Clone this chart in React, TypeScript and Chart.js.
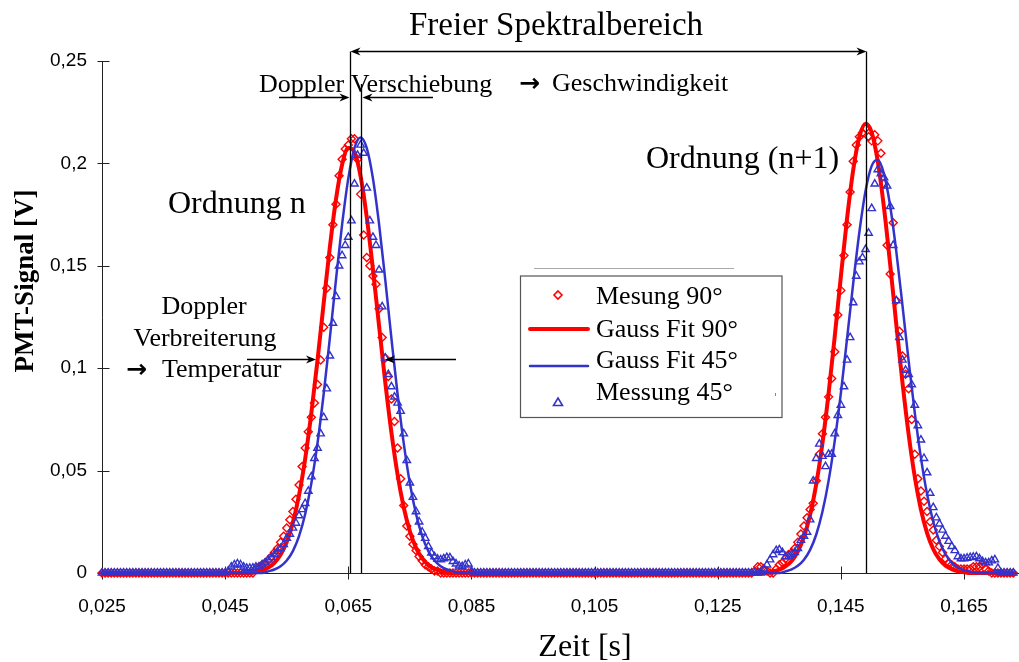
import React, { useEffect, useRef } from "react";
import { Chart, registerables } from "chart.js";

Chart.register(...registerables);

// ---- axis / sampling ----
const T_START = 0.025;
const MEAS_STEP = 0.0005;
const FIT_STEP = 0.001;
const X_MIN = 0.025;
const X_MAX = 0.173;
const Y_MIN = 0;
const Y_MAX = 0.25;
const X_TICKS = [0.025, 0.045, 0.065, 0.085, 0.105, 0.125, 0.145, 0.165];
const Y_TICKS = [0, 0.05, 0.1, 0.15, 0.2, 0.25];

// peak positions marked with vertical lines (s)
const PEAK_LINES = [0.06523, 0.06701, 0.14911];

const SERIES_LABELS = ["Mesung 90°", "Gauss Fit 90°", "Gauss Fit 45°", "Messung 45°"];

// ---- measured signal 90° (V), every 0.5 ms from 0.025 s ----
const messung90 = [
  0, 0, 0, 0, 0, 0, 0, 0, 0, 0,
  0, 0, 0, 0, 0, 0, 0, 0, 0, 0,
  0, 0, 0, 0, 0, 0, 0, 0, 0, 0,
  0, 0, 0, 0, 0, 0, 0, 0, 0, 0,
  0, 0, 0, 0, 0, 0, 0, 0, 0, 0,
  0.002, 0.003, 0.004, 0.005, 0.006, 0.008, 0.010, 0.012, 0.015, 0.018,
  0.022, 0.026, 0.030, 0.036, 0.043, 0.052, 0.061, 0.069, 0.076, 0.083,
  0.092, 0.104, 0.120, 0.139, 0.154, 0.170, 0.180, 0.194, 0.202, 0.207,
  0.209, 0.212, 0.212, 0.202, 0.185, 0.165, 0.154, 0.150, 0.145, 0.141,
  0.129, 0.115, 0.105, 0.096, 0.085, 0.074, 0.061, 0.046, 0.033, 0.023,
  0.018, 0.014, 0.011, 0.008, 0.006, 0.004, 0.003, 0.002, 0.001, 0.001,
  0, 0, 0, 0, 0, 0, 0, 0, 0, 0,
  0, 0, 0, 0, 0, 0, 0, 0, 0, 0,
  0, 0, 0, 0, 0, 0, 0, 0, 0, 0,
  0, 0, 0, 0, 0, 0, 0, 0, 0, 0,
  0, 0, 0, 0, 0, 0, 0, 0, 0, 0,
  0, 0, 0, 0, 0, 0, 0, 0, 0, 0,
  0, 0, 0, 0, 0, 0, 0, 0, 0, 0,
  0, 0, 0, 0, 0, 0, 0, 0, 0, 0,
  0, 0, 0, 0, 0, 0, 0, 0, 0, 0,
  0, 0, 0, 0, 0, 0, 0, 0, 0, 0,
  0, 0, 0.001, 0.003, 0.003, 0.002, 0.001, 0, 0, 0.002,
  0.004, 0.005, 0.007, 0.009, 0.010, 0.012, 0.015, 0.019, 0.023, 0.027,
  0.031, 0.034, 0.045, 0.058, 0.068, 0.076, 0.086, 0.095, 0.108, 0.126,
  0.138, 0.155, 0.170, 0.186, 0.201, 0.209, 0.213, 0.215, 0.217, 0.213,
  0.211, 0.214, 0.211, 0.205, 0.190, 0.160, 0.146, 0.171, 0.133, 0.118,
  0.106, 0.097, 0.090, 0.075, 0.058, 0.046, 0.040, 0.035, 0.030, 0.025,
  0.021, 0.016, 0.013, 0.010, 0.007, 0.005, 0.004, 0.003, 0.002, 0.002,
  0.002, 0.002, 0.002, 0.003, 0.003, 0.003, 0.004, 0.002, 0.001, 0,
  0, 0, 0, 0, 0, 0, 0,
];

// ---- measured signal 45° (V), every 0.5 ms from 0.025 s ----
const messung45 = [
  0, 0, 0, 0, 0, 0, 0, 0, 0, 0,
  0, 0, 0, 0, 0, 0, 0, 0, 0, 0,
  0, 0, 0, 0, 0, 0, 0, 0, 0, 0,
  0, 0, 0, 0, 0, 0, 0, 0, 0, 0,
  0, 0.001, 0.003, 0.004, 0.0045, 0.004, 0.003, 0.0024, 0.0024, 0.0025,
  0.003, 0.003, 0.004, 0.005, 0.0065, 0.0075, 0.009, 0.0105, 0.012, 0.014,
  0.017, 0.019, 0.022, 0.0244, 0.028, 0.031, 0.034, 0.040, 0.047, 0.056,
  0.061, 0.068, 0.076, 0.090, 0.106, 0.122, 0.135, 0.150, 0.155, 0.160,
  0.164, 0.172, 0.190, 0.204, 0.209, 0.205, 0.188, 0.172, 0.164, 0.160,
  0.148, 0.130, 0.105, 0.097, 0.091, 0.086, 0.083, 0.079, 0.068, 0.055,
  0.044, 0.037, 0.030, 0.025, 0.020, 0.017, 0.013, 0.0098, 0.008, 0.0068,
  0.0065, 0.007, 0.0076, 0.0075, 0.0057, 0.0045, 0.0035, 0.0032, 0.004, 0.0045,
  0.001, 0, 0, 0, 0, 0, 0, 0, 0, 0,
  0, 0, 0, 0, 0, 0, 0, 0, 0, 0,
  0, 0, 0, 0, 0, 0, 0, 0, 0, 0,
  0, 0, 0, 0, 0, 0, 0, 0, 0, 0,
  0, 0, 0, 0, 0, 0, 0, 0, 0, 0,
  0, 0, 0, 0, 0, 0, 0, 0, 0, 0,
  0, 0, 0, 0, 0, 0, 0, 0, 0, 0,
  0, 0, 0, 0, 0, 0, 0, 0, 0, 0,
  0, 0, 0, 0, 0, 0, 0, 0, 0, 0,
  0, 0, 0, 0, 0, 0.002, 0.004, 0.0065, 0.009, 0.011,
  0.0114, 0.010, 0.008, 0.008, 0.009, 0.010, 0.012, 0.016, 0.018, 0.020,
  0.026, 0.045, 0.056, 0.063, 0.057, 0.052, 0.058, 0.058, 0.068, 0.077,
  0.082, 0.091, 0.104, 0.115, 0.132, 0.145, 0.152, 0.154, 0.158, 0.166,
  0.178, 0.190, 0.197, 0.195, 0.193, 0.189, 0.179, 0.160, 0.133, 0.115,
  0.104, 0.099, 0.097, 0.092, 0.082, 0.072, 0.065, 0.056, 0.049, 0.039,
  0.032, 0.027, 0.024, 0.021, 0.018, 0.0155, 0.013, 0.011, 0.008, 0.007,
  0.007, 0.0073, 0.0076, 0.0078, 0.008, 0.007, 0.0057, 0.005, 0.005, 0.006,
  0.0065, 0.0024, 0, 0, 0, 0, 0,
];

// ---- Gauss fit 90° (V), every 1 ms from 0.025 s ----
const gaussFit90 = [
  0, 0, 0, 0, 0, 0, 0, 0, 0, 0,
  0, 0, 0, 0, 0, 0, 0, 0, 0, 0,
  0, 0, 0, 0, 0, 0.0005, 0.0012, 0.0026, 0.0050, 0.0089,
  0.0151, 0.0246, 0.0380, 0.0558, 0.0781, 0.1039, 0.1317, 0.1590, 0.1825, 0.1995,
  0.2075, 0.2055, 0.1937, 0.1737, 0.1483, 0.1206, 0.0933, 0.0687, 0.0481, 0.0321,
  0.0204, 0.0123, 0.0071, 0.0039, 0.0020, 0.0010, 0.0004, 0, 0, 0,
  0, 0, 0, 0, 0, 0, 0, 0, 0, 0,
  0, 0, 0, 0, 0, 0, 0, 0, 0, 0,
  0, 0, 0, 0, 0, 0, 0, 0, 0, 0,
  0, 0, 0, 0, 0, 0, 0, 0, 0, 0,
  0, 0, 0, 0, 0, 0, 0, 0, 0, 0.0008,
  0.0016, 0.0032, 0.0059, 0.0105, 0.0177, 0.0284, 0.0434, 0.0632, 0.0876, 0.1155,
  0.1449, 0.1731, 0.1968, 0.2130, 0.2194, 0.2152, 0.2008, 0.1783, 0.1508, 0.1213,
  0.0930, 0.0678, 0.0470, 0.0310, 0.0195, 0.0117, 0.0067, 0.0036, 0.0019, 0.0009,
  0.0004, 0, 0, 0, 0, 0, 0, 0, 0,
];

// ---- Gauss fit 45° (V), every 1 ms from 0.025 s ----
const gaussFit45 = [
  0, 0, 0, 0, 0, 0, 0, 0, 0, 0,
  0, 0, 0, 0, 0, 0, 0, 0, 0, 0,
  0, 0, 0, 0, 0, 0, 0, 0.0008, 0.0017, 0.0033,
  0.0061, 0.0107, 0.0180, 0.0288, 0.0438, 0.0634, 0.0874, 0.1147, 0.1433, 0.1703,
  0.1927, 0.2075, 0.2127, 0.2075, 0.1927, 0.1703, 0.1433, 0.1147, 0.0874, 0.0634,
  0.0438, 0.0288, 0.0180, 0.0107, 0.0061, 0.0033, 0.0017, 0.0008, 0, 0,
  0, 0, 0, 0, 0, 0, 0, 0, 0, 0,
  0, 0, 0, 0, 0, 0, 0, 0, 0, 0,
  0, 0, 0, 0, 0, 0, 0, 0, 0, 0,
  0, 0, 0, 0, 0, 0, 0, 0, 0, 0,
  0, 0, 0, 0, 0, 0, 0, 0, 0, 0,
  0, 0.0008, 0.0018, 0.0035, 0.0065, 0.0113, 0.0188, 0.0299, 0.0450, 0.0645,
  0.0880, 0.1144, 0.1414, 0.1664, 0.1865, 0.1988, 0.2018, 0.1949, 0.1793, 0.1569,
  0.1307, 0.1036, 0.0782, 0.0562, 0.0384, 0.0250, 0.0155, 0.0091, 0.0051, 0.0027,
  0.0014, 0.0007, 0, 0, 0, 0, 0, 0, 0,
];

const RED = "#ff0000";
const BLUE = "#3333cc";
const SERIF = "'Liberation Serif', 'Times New Roman', serif";
const SANS = "'Liberation Sans', Arial, sans-serif";
const ARROW_FONT = "'DejaVu Sans', sans-serif";

const toPoints = (vals: number[], step: number) =>
  vals.map((v, i) => ({ x: +(T_START + i * step).toFixed(5), y: v }));

const fmt = (v: number) => String(Number(Number(v).toFixed(3))).replace(".", ",");

function arrowHead(ctx: CanvasRenderingContext2D, x: number, y: number, dir: number) {
  ctx.beginPath();
  ctx.moveTo(x, y);
  ctx.lineTo(x - dir * 10, y - 4);
  ctx.lineTo(x - dir * 7, y);
  ctx.lineTo(x - dir * 10, y + 4);
  ctx.closePath();
  ctx.fill();
}

function arrow(ctx: CanvasRenderingContext2D, from: number, tip: number, y: number) {
  const dir = tip > from ? 1 : -1;
  ctx.beginPath();
  ctx.moveTo(from, y);
  ctx.lineTo(tip - dir * 6, y);
  ctx.stroke();
  arrowHead(ctx, tip, y, dir);
}

const overlay = {
  id: "overlay",
  beforeDatasetsDraw(chart: any) {
    const { ctx, chartArea: a, scales } = chart;
    const x = scales.x;
    const y = scales.y;
    ctx.save();
    ctx.strokeStyle = "#222";
    ctx.lineWidth = 1;
    ctx.beginPath();
    const ax = Math.round(a.left) + 0.5;
    const ay = Math.round(a.bottom) + 0.5;
    ctx.moveTo(ax, a.top);
    ctx.lineTo(ax, ay);
    ctx.moveTo(ax, ay);
    ctx.lineTo(1019, ay);
    Y_TICKS.forEach((v) => {
      const py = Math.round(y.getPixelForValue(v)) + 0.5;
      ctx.moveTo(ax - 5, py);
      ctx.lineTo(ax + 7, py);
    });
    X_TICKS.forEach((v) => {
      const px = Math.round(x.getPixelForValue(v)) + 0.5;
      ctx.moveTo(px, ay - 7);
      ctx.lineTo(px, ay + 6);
    });
    ctx.stroke();
    ctx.restore();
  },
  afterDatasetsDraw(chart: any) {
    const { ctx, chartArea: a, scales } = chart;
    const x = scales.x;
    const xs = PEAK_LINES.map((v) => Math.round(x.getPixelForValue(v)) + 0.5);
    ctx.save();
    ctx.strokeStyle = "#000";
    ctx.fillStyle = "#000";
    ctx.lineWidth = 1.3;

    // vertical peak lines
    ctx.beginPath();
    ctx.moveTo(xs[0], 51.5);
    ctx.lineTo(xs[0], a.bottom);
    ctx.moveTo(xs[1], 84);
    ctx.lineTo(xs[1], a.bottom);
    ctx.moveTo(xs[2], 51.5);
    ctx.lineTo(xs[2], a.bottom);
    ctx.stroke();

    // free spectral range double arrow
    ctx.beginPath();
    ctx.moveTo(xs[0] + 5, 51.5);
    ctx.lineTo(xs[2] - 5, 51.5);
    ctx.stroke();
    arrowHead(ctx, xs[0], 51.5, -1);
    arrowHead(ctx, xs[2], 51.5, 1);

    // doppler shift arrows
    arrow(ctx, 279, xs[0] - 1, 97.5);
    arrow(ctx, 433, xs[1] + 1, 97.5);

    // doppler broadening arrows
    arrow(ctx, 247, 316, 359.5);
    arrow(ctx, 456, 385, 359.5);

    // texts
    ctx.fillStyle = "#000";
    ctx.textBaseline = "alphabetic";
    ctx.font = `33px ${SERIF}`;
    ctx.textAlign = "left";
    ctx.fillText("Freier Spektralbereich", 409, 35);

    ctx.font = `26px ${SERIF}`;
    ctx.fillText("Doppler Verschiebung", 259, 91.5);
    ctx.font = `bold 25px ${ARROW_FONT}`;
    ctx.fillText("\u2192", 519, 90.5);
    ctx.font = `26px ${SERIF}`;
    ctx.fillText("Geschwindigkeit", 552, 90.5);

    ctx.font = `32px ${SERIF}`;
    ctx.fillText("Ordnung n", 168, 213);
    ctx.fillText("Ordnung (n+1)", 646, 168);

    ctx.font = `26px ${SERIF}`;
    ctx.textAlign = "center";
    ctx.fillText("Doppler", 204, 314);
    ctx.fillText("Verbreiterung", 205, 346);
    ctx.textAlign = "left";
    ctx.font = `bold 25px ${ARROW_FONT}`;
    ctx.fillText("\u2192", 126, 376.5);
    ctx.font = `26px ${SERIF}`;
    ctx.fillText("Temperatur", 162, 376.5);

    // axis titles
    ctx.textAlign = "center";
    ctx.font = `32px ${SERIF}`;
    ctx.fillText("Zeit [s]", 585, 656);
    ctx.save();
    ctx.translate(33, 281);
    ctx.rotate(-Math.PI / 2);
    ctx.font = `bold 27px ${SERIF}`;
    ctx.textAlign = "center";
    ctx.fillText("PMT-Signal [V]", 0, 0);
    ctx.restore();

    // legend
    ctx.strokeStyle = "#aaa";
    ctx.lineWidth = 1;
    ctx.beginPath();
    ctx.moveTo(534, 268.5);
    ctx.lineTo(734, 268.5);
    ctx.stroke();
    ctx.strokeStyle = "#555";
    ctx.lineWidth = 1.2;
    ctx.strokeRect(520.5, 276, 261.5, 141.5);
    ctx.fillStyle = "#888";
    ctx.fillRect(775, 393, 1, 3);

    // symbol 1: diamond
    ctx.strokeStyle = RED;
    ctx.lineWidth = 1.6;
    ctx.beginPath();
    ctx.moveTo(558, 291);
    ctx.lineTo(562, 295);
    ctx.lineTo(558, 299);
    ctx.lineTo(554, 295);
    ctx.closePath();
    ctx.stroke();
    // symbol 2: thick red line
    ctx.lineWidth = 4;
    ctx.lineCap = "round";
    ctx.beginPath();
    ctx.moveTo(530, 329);
    ctx.lineTo(588, 329);
    ctx.stroke();
    // symbol 3: blue line
    ctx.strokeStyle = BLUE;
    ctx.lineWidth = 2.5;
    ctx.beginPath();
    ctx.moveTo(530, 366);
    ctx.lineTo(588, 366);
    ctx.stroke();
    // symbol 4: triangle
    ctx.lineWidth = 1.6;
    ctx.lineCap = "butt";
    ctx.beginPath();
    ctx.moveTo(558, 398);
    ctx.lineTo(562.5, 405.5);
    ctx.lineTo(553.5, 405.5);
    ctx.closePath();
    ctx.stroke();

    ctx.fillStyle = "#000";
    ctx.textAlign = "left";
    ctx.font = `26px ${SERIF}`;
    ctx.fillText(SERIES_LABELS[0], 596, 304);
    ctx.fillText(SERIES_LABELS[1], 596, 336.5);
    ctx.fillText(SERIES_LABELS[2], 596, 368);
    ctx.fillText(SERIES_LABELS[3], 596, 400);

    ctx.restore();
  },
};

export default function App() {
  const ref = useRef<HTMLCanvasElement>(null);

  useEffect(() => {
    const canvas = ref.current;
    if (!canvas) return;
    const chart = new Chart(canvas, {
      type: "line",
      data: {
        datasets: [
          {
            label: SERIES_LABELS[0],
            data: toPoints(messung90, MEAS_STEP),
            showLine: false,
            pointStyle: "rectRot",
            pointRadius: 4,
            pointBorderWidth: 1.4,
            pointBorderColor: RED,
            pointBackgroundColor: "rgba(255,255,255,0)",
            borderColor: RED,
            order: 4,
            clip: false,
          } as any,
          {
            label: SERIES_LABELS[1],
            data: toPoints(gaussFit90, FIT_STEP),
            borderColor: RED,
            borderWidth: 4,
            pointRadius: 0,
            cubicInterpolationMode: "monotone",
            borderCapStyle: "round",
            borderJoinStyle: "round",
            order: 3,
            clip: false,
          } as any,
          {
            label: SERIES_LABELS[2],
            data: toPoints(gaussFit45, FIT_STEP),
            borderColor: BLUE,
            borderWidth: 2.5,
            pointRadius: 0,
            cubicInterpolationMode: "monotone",
            borderCapStyle: "round",
            borderJoinStyle: "round",
            order: 2,
            clip: false,
          } as any,
          {
            label: SERIES_LABELS[3],
            data: toPoints(messung45, MEAS_STEP),
            showLine: false,
            pointStyle: "triangle",
            pointRadius: 4.3,
            pointBorderWidth: 1.4,
            pointBorderColor: BLUE,
            pointBackgroundColor: "rgba(255,255,255,0)",
            borderColor: BLUE,
            order: 1,
            clip: false,
          } as any,
        ],
      },
      options: {
        responsive: false,
        devicePixelRatio: 1,
        animation: false,
        events: [],
        layout: { padding: { left: 0, right: 2, top: 61, bottom: 0 } },
        plugins: {
          legend: { display: false },
          tooltip: { enabled: false },
          title: { display: false },
        },
        scales: {
          x: {
            type: "linear",
            min: X_MIN,
            max: X_MAX,
            afterBuildTicks: (s: any) => {
              s.ticks = X_TICKS.map((v) => ({ value: v }));
            },
            afterFit: (s: any) => {
              s.height = 89;
            },
            grid: { display: false, drawTicks: false },
            border: { display: false },
            ticks: {
              autoSkip: false,
              maxRotation: 0,
              padding: 22,
              color: "#000",
              font: { family: SANS, size: 19 },
              callback: (v: any) => fmt(v),
            },
          },
          y: {
            type: "linear",
            min: Y_MIN,
            max: Y_MAX,
            afterBuildTicks: (s: any) => {
              s.ticks = Y_TICKS.map((v) => ({ value: v }));
            },
            afterFit: (s: any) => {
              s.width = 102;
            },
            grid: { display: false, drawTicks: false },
            border: { display: false },
            ticks: {
              padding: 15,
              color: "#000",
              font: { family: SANS, size: 19 },
              callback: (v: any) => fmt(v),
            },
          },
        },
      } as any,
      plugins: [overlay],
    });
    return () => chart.destroy();
  }, []);

  return (
    <div style={{ position: "fixed", left: 0, top: 0, width: 1019, height: 662, background: "#fff" }}>
      <canvas ref={ref} width={1019} height={662} style={{ display: "block", width: 1019, height: 662 }} />
    </div>
  );
}
